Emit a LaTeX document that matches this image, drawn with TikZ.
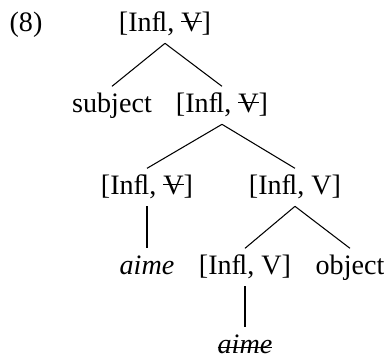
\documentclass[tikz,border=0pt,12pt]{standalone}
\usepackage{fontspec}
\setmainfont{Liberation Serif}
\usepackage{tikz}
\newcommand{\strikeout}[2][0.35em]{\setbox0=\hbox{#2}\rlap{\rule[#1]{\wd0}{0.4pt}}\box0}
\tikzset{
    cat/.style={anchor=base, inner sep=0pt, text height=0.29cm, text depth=0.06cm, outer ysep=0.11cm},
    branch/.style={line width=0.45pt}
}
\begin{document}
\begin{tikzpicture}
        \useasboundingbox (0,0) rectangle (5.76,5.37);
        \node[anchor=base] (ex) at (0.39,4.89) {(8)};
        % top of the tree
        \node[cat] (root) at (2.475,4.89) {[Inﬂ, \strikeout{V}]};
        \node[cat] (subj) at (1.68,3.675) {subject};
        \node[cat] (ibar) at (3.33,3.675) {[Inﬂ, \strikeout{V}]};
        % head and its complement
        \node[cat] (head) at (2.205,2.445) {[Inﬂ, \strikeout{V}]};
        \node[cat] (vp) at (4.425,2.445) {[Inﬂ, V]};
        \node[cat] (verb) at (2.205,1.245) {\textit{aime}};
        \node[cat] (vhead) at (3.675,1.245) {[Inﬂ, V]};
        \node[cat] (obj) at (5.25,1.245) {object};
        \node[cat] (trace) at (3.675,0.06) {\strikeout[0.22em]{\textit{aime}}};
        % branches
        \draw[branch] (root.south) -- (subj.north);
        \draw[branch] (root.south) -- (ibar.north);
        \draw[branch] (ibar.south) -- (head.north);
        \draw[branch] (ibar.south) -- (vp.north);
        \draw[branch] (head.south) -- (verb.north);
        \draw[branch] (vp.south) -- (vhead.north);
        \draw[branch] (vp.south) -- (obj.north);
        \draw[branch] (vhead.south) -- (trace.north);
\end{tikzpicture}
\end{document}
